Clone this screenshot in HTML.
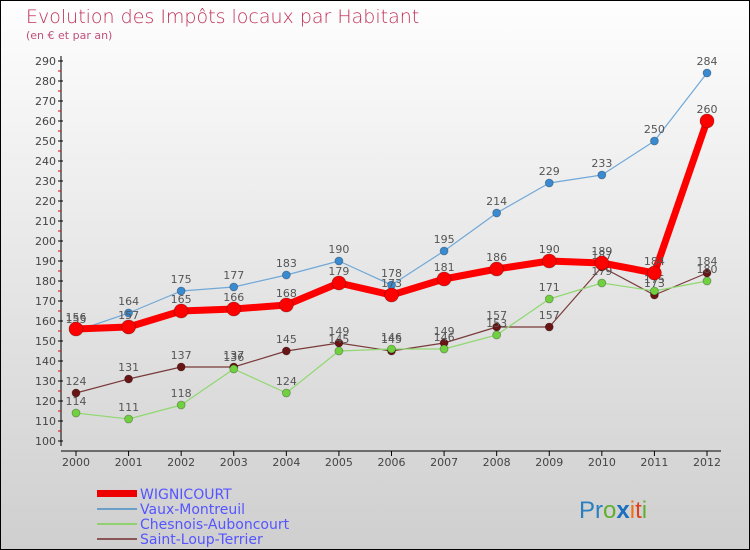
<!DOCTYPE html>
<html><head><meta charset="utf-8"><style>
body{margin:0}
#c{width:748px;height:548px;border:1px solid #000;background:linear-gradient(#fefefe,#e6e6e6 50%,#cfcfcf);position:relative;overflow:hidden;font-family:"DejaVu Sans","Liberation Sans",sans-serif}
</style></head><body>
<div id="c">
<svg id="s" width="748" height="548">
<text x="25" y="22" font-size="19" fill="#c0305a" style="font-weight:200">Evolution des Impôts locaux par Habitant</text>
<text x="25" y="38" font-size="11" fill="#c0507a">(en € et par an)</text>
<g id="ax"></g><g id="pl"></g>
<g>
<rect x="96" y="489" width="40" height="7" fill="#e00"/>
<text x="139" y="498" font-size="14" fill="#55f">WIGNICOURT</text>
<line x1="96" y1="508" x2="136" y2="508" stroke="#6a9fc8" stroke-width="2"/>
<text x="139" y="513" font-size="14" fill="#55f">Vaux-Montreuil</text>
<line x1="96" y1="523" x2="136" y2="523" stroke="#90d070" stroke-width="2"/>
<text x="139" y="528" font-size="14" fill="#55f">Chesnois-Auboncourt</text>
<line x1="96" y1="538" x2="136" y2="538" stroke="#8a5555" stroke-width="2"/>
<text x="139" y="543" font-size="14" fill="#55f">Saint-Loup-Terrier</text>
</g>
<text x="578" y="517" font-size="24" font-family="'Liberation Sans',sans-serif"><tspan fill="#2a7fc0">Pr</tspan><tspan fill="#60b030">o</tspan><tspan fill="#1a6fc0" font-weight="bold">x</tspan><tspan fill="#f07010">i</tspan><tspan fill="#e04020">t</tspan><tspan fill="#60b030">i</tspan></text>
</svg></div>
<script>
const years=[2000,2001,2002,2003,2004,2005,2006,2007,2008,2009,2010,2011,2012];
const wignicourt=[156,157,165,166,168,179,173,181,186,190,189,184,260];
const vaux=[155,164,175,177,183,190,178,195,214,229,233,250,284];
const chesnois=[114,111,118,136,124,145,146,146,153,171,179,175,180];
const saintLoup=[124,131,137,137,145,149,145,149,157,157,187,173,184];
const yTicks=[100,110,120,130,140,150,160,170,180,190,200,210,220,230,240,250,260,270,280,290];
const NS="http://www.w3.org/2000/svg";
const X=i=>75+i*(706-75)/(years.length-1);
const Y=v=>440-(v-100)*2;
function mk(t,a,p){const e=document.createElementNS(NS,t);for(const k in a)e.setAttribute(k,a[k]);p.appendChild(e);return e;}
const ax=document.getElementById('ax'),pl=document.getElementById('pl');
const ya=mk('line',{x1:60,y1:55,x2:60,y2:445,stroke:'#000'},ax);


const xa=mk('line',{x1:60,y1:450,x2:720,y2:450,stroke:'#000'},ax);


yTicks.forEach(v=>{
 mk('line',{x1:57,y1:Y(v),x2:62,y2:Y(v),stroke:'#000'},ax);
 if(v<290)mk('line',{x1:57,y1:Y(v+5),x2:60,y2:Y(v+5),stroke:'#e00'},ax);
 const t=mk('text',{x:55,y:Y(v)+4,'font-size':11,fill:'#444','text-anchor':'end'},ax);
 t.textContent=v;
 
 
});
years.forEach((y,i)=>{
 mk('line',{x1:X(i),y1:450,x2:X(i),y2:455,stroke:'#000'},ax);
 const t=mk('text',{x:X(i),y:465,'font-size':11,fill:'#444','text-anchor':'middle'},ax);
 t.textContent=y;
 
 
});
function series(d,name,col,dot,w,r){
 const g=mk('g',{},pl);
 
 
 const p=mk('polyline',{points:d.map((v,i)=>X(i)+','+Y(v)).join(' '),fill:'none',stroke:col,'stroke-width':w,'stroke-linejoin':'round'},g);
 
 
 d.forEach((v,i)=>{
  const c=mk('circle',{cx:X(i),cy:Y(v),r:r,fill:dot,stroke:'rgba(0,0,0,0.3)','stroke-width':0.8},g);
  
  
  const t=mk('text',{x:X(i),y:Y(v)-8,'font-size':11,fill:'#555','text-anchor':'middle'},g);
  t.textContent=v;
  
  
 });
}
series(saintLoup,'saint-loup','#7a3a3a','#6a1515',1.2,4);
series(chesnois,'chesnois','#90d870','#70d040',1.2,4);
series(vaux,'vaux','#70a8d8','#3a8ad0',1.2,4);
series(wignicourt,'wignicourt','#f00','#f00',7,7);
</script>
</body></html>
